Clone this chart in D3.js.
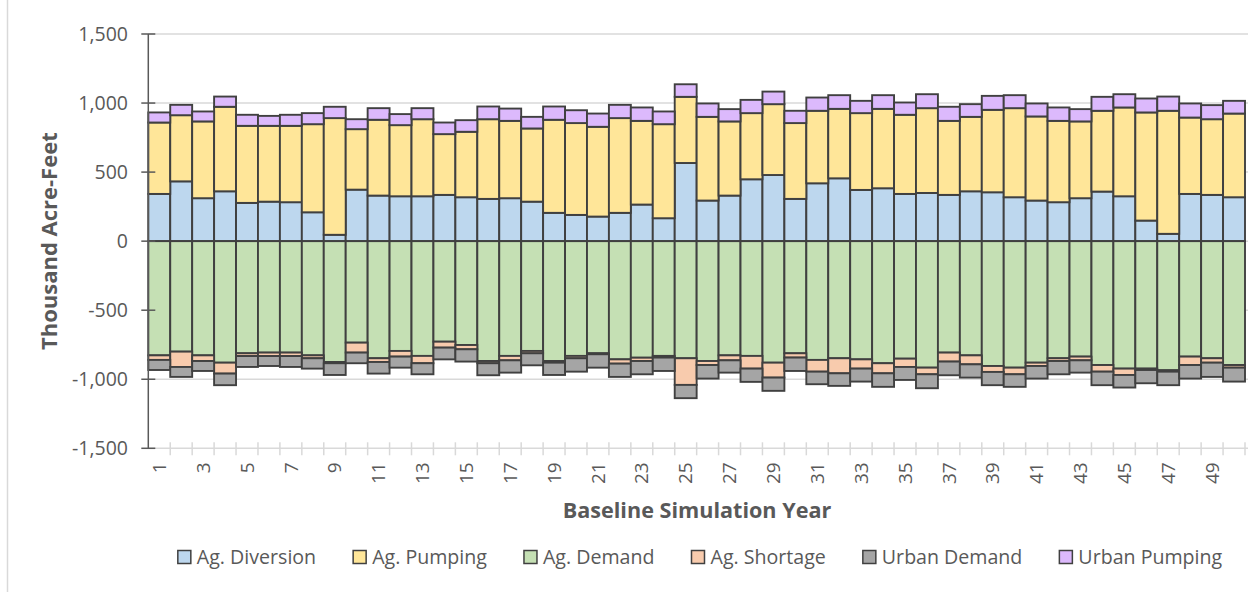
<!DOCTYPE html>
<html>
<head>
<meta charset="utf-8">
<script src="https://cdn.jsdelivr.net/npm/d3@7"></script>
<style>
  html, body { margin: 0; padding: 0; background: #fff; }
  svg { display: block; font-family: "Open Sans", "Noto Sans", sans-serif; }
</style>
</head>
<body>
<svg id="chart" width="1255" height="592"></svg>
<script>
// Simulation years (categories)
const years = [1,2,3,4,5,6,7,8,9,10,11,12,13,14,15,16,17,18,19,20,21,22,23,24,25,
               26,27,28,29,30,31,32,33,34,35,36,37,38,39,40,41,42,43,44,45,46,47,48,49,50];

// Supply side (thousand acre-feet, positive)
const agDiversion = [342,433,311,361,277,286,282,209,46,373,330,325,325,335,318,306,311,286,205,190,
                     178,205,265,166,566,294,330,448,479,306,419,455,371,383,342,349,335,361,354,318,
                     294,282,311,359,325,149,53,342,335,318];
const agPumping = [517,479,556,612,558,549,553,638,845,438,549,515,558,440,474,577,560,530,674,665,
                   650,686,606,681,479,606,537,479,513,549,525,503,556,575,573,614,536,539,597,645,
                   609,589,556,585,643,783,891,553,548,606];
const urbanPumping = [73,75,72,74,80,72,80,80,82,72,84,80,80,84,84,92,89,84,96,93,
                      96,96,97,92,91,97,89,96,91,89,96,99,89,99,89,101,102,92,101,94,
                      94,97,89,101,96,101,103,102,102,92];

// Demand side (thousand acre-feet, negative)
const agDemand = [-827,-800,-827,-880,-812,-807,-807,-827,-875,-735,-848,-795,-831,-728,-752,-868,-831,-795,-868,-831,
                  -812,-856,-844,-831,-848,-868,-827,-831,-880,-812,-860,-848,-856,-884,-851,-916,-807,-827,-904,-916,
                  -880,-848,-836,-897,-923,-923,-935,-836,-848,-897];
const agShortage = [-33,-111,-41,-79,-20,-25,-25,-21,-9,-72,-27,-41,-53,-43,-31,-16,-32,-17,-12,-17,
                    -7,-31,-24,-12,-193,-29,-36,-92,-108,-31,-85,-109,-67,-73,-60,-48,-65,-65,-43,-48,
                    -24,-20,-27,-48,-46,-10,-10,-61,-32,-19];
const urbanDemand = [-73,-72,-72,-84,-79,-72,-79,-75,-85,-77,-84,-80,-80,-85,-89,-87,-89,-87,-89,-97,
                     -97,-96,-96,-97,-96,-98,-89,-96,-96,-97,-91,-91,-94,-98,-94,-101,-99,-96,-96,-91,
                     -91,-96,-89,-98,-91,-96,-98,-98,-103,-101];

const yTicks = [-1500,-1000,-500,0,500,1000,1500];

// Series definitions: stacking order and colours
const seriesDefs = [
  { key: "Ag. Diversion",  values: agDiversion,  color: "#BDD7EE" },
  { key: "Ag. Pumping",    values: agPumping,    color: "#FFE699" },
  { key: "Urban Pumping",  values: urbanPumping, color: "#DCB9FC" },
  { key: "Ag. Demand",     values: agDemand,     color: "#C5E0B4" },
  { key: "Ag. Shortage",   values: agShortage,   color: "#F8CBAD" },
  { key: "Urban Demand",   values: urbanDemand,  color: "#A5A5A5" }
];
const legendOrder = ["Ag. Diversion","Ag. Pumping","Ag. Demand","Ag. Shortage","Urban Demand","Urban Pumping"];

// Build a row table for d3.stack
const table = years.map((yr, i) => {
  const row = { year: yr };
  seriesDefs.forEach(s => { row[s.key] = s.values[i]; });
  return row;
});

const stacked = d3.stack()
  .keys(seriesDefs.map(s => s.key))
  .offset(d3.stackOffsetDiverging)(table);

const colorOf = Object.fromEntries(seriesDefs.map(s => [s.key, s.color]));

const svg = d3.select("#chart");
const plot = { left: 148.3, right: 1245, top: 34, bottom: 448.3 };

const x = d3.scaleBand().domain(years).range([plot.left, plot.right]).padding(0);
const y = d3.scaleLinear().domain([-1500, 1500]).range([plot.bottom, plot.top]);

const fmt = d3.formatLocale({ decimal: ".", thousands: ",", grouping: [3], currency: ["$", ""], minus: "-" }).format(",");

const textColor = "#595959";
const gridColor = "#D9D9D9";

// Outer chart frame (left edge)
svg.append("line")
  .attr("x1", 7.5).attr("x2", 7.5).attr("y1", 0).attr("y2", 592)
  .attr("stroke", gridColor).attr("stroke-width", 1.5);

// Horizontal gridlines
svg.append("g").selectAll("line")
  .data(yTicks.filter(t => t !== -1500))
  .join("line")
  .attr("x1", plot.left).attr("x2", plot.right + 3)
  .attr("y1", d => y(d)).attr("y2", d => y(d))
  .attr("stroke", gridColor).attr("stroke-width", 1.5);

// Bars
svg.append("g").selectAll("g")
  .data(stacked)
  .join("g")
  .attr("fill", d => colorOf[d.key])
  .selectAll("rect")
  .data(d => d)
  .join("rect")
  .attr("x", d => x(d.data.year))
  .attr("width", x.bandwidth())
  .attr("y", d => y(Math.max(d[0], d[1])))
  .attr("height", d => Math.abs(y(d[0]) - y(d[1])))
  .attr("stroke", "#404040")
  .attr("stroke-width", 1.9);

// X axis line and category boundary ticks
const xAxisY = y(-1500);
svg.append("line")
  .attr("x1", plot.left).attr("x2", plot.right + 3)
  .attr("y1", xAxisY).attr("y2", xAxisY)
  .attr("stroke", gridColor).attr("stroke-width", 1.5);

const bounds = years.map(yr => x(yr)).concat([x(years[years.length - 1]) + x.bandwidth()]);
svg.append("g").selectAll("line")
  .data(bounds.slice(1))
  .join("line")
  .attr("x1", d => d).attr("x2", d => d)
  .attr("y1", xAxisY - 6).attr("y2", xAxisY + 7)
  .attr("stroke", gridColor).attr("stroke-width", 1.5);

// X tick labels (every other year), rotated
svg.append("g").selectAll("text")
  .data(years.filter(yr => yr % 2 === 1))
  .join("text")
  .attr("transform", d => `translate(${x(d) + x.bandwidth() / 2},${xAxisY + 14}) rotate(-90)`)
  .attr("text-anchor", "end")
  .attr("dy", "0.35em")
  .attr("fill", textColor)
  .attr("font-size", 19)
  .text(d => d);

// Y axis line and ticks
svg.append("line")
  .attr("x1", plot.left).attr("x2", plot.left)
  .attr("y1", y(1500)).attr("y2", y(-1500))
  .attr("stroke", "#595959").attr("stroke-width", 1.5);

svg.append("g").selectAll("line")
  .data(yTicks)
  .join("line")
  .attr("x1", plot.left - 7).attr("x2", plot.left + 7)
  .attr("y1", d => y(d)).attr("y2", d => y(d))
  .attr("stroke", "#595959").attr("stroke-width", 1.5);

svg.append("g").selectAll("text")
  .data(yTicks)
  .join("text")
  .attr("x", 128)
  .attr("y", d => y(d))
  .attr("dy", "0.35em")
  .attr("text-anchor", "end")
  .attr("fill", textColor)
  .attr("font-size", 19.5)
  .text(d => fmt(d));

// Axis titles
svg.append("text")
  .attr("transform", `translate(49,${y(0)}) rotate(-90)`)
  .attr("text-anchor", "middle")
  .attr("dy", "0.35em")
  .attr("fill", textColor)
  .attr("font-size", 22)
  .attr("font-weight", "bold")
  .text("Thousand Acre-Feet");

svg.append("text")
  .attr("x", 697)
  .attr("y", 518)
  .attr("text-anchor", "middle")
  .attr("fill", textColor)
  .attr("font-size", 21.6)
  .attr("font-weight", "bold")
  .text("Baseline Simulation Year");

// Legend, laid out from measured text widths and centred under the plot
const legend = svg.append("g");
const swatch = 13, swGap = 6, itemGap = 37;
let cursor = 0;
legendOrder.forEach(key => {
  const g = legend.append("g");
  g.append("rect")
    .attr("x", 0).attr("y", -swatch / 2)
    .attr("width", swatch).attr("height", swatch)
    .attr("fill", colorOf[key])
    .attr("stroke", "#404040").attr("stroke-width", 1.5);
  const t = g.append("text")
    .attr("x", swatch + swGap)
    .attr("dy", "0.35em")
    .attr("fill", textColor)
    .attr("font-size", 19.6)
    .text(key);
  const w = swatch + swGap + t.node().getComputedTextLength();
  g.attr("transform", `translate(${cursor},0)`);
  cursor += w + itemGap;
});
const totalW = cursor - itemGap;
legend.attr("transform", `translate(${700 - totalW / 2},557)`);
</script>
</body>
</html>
